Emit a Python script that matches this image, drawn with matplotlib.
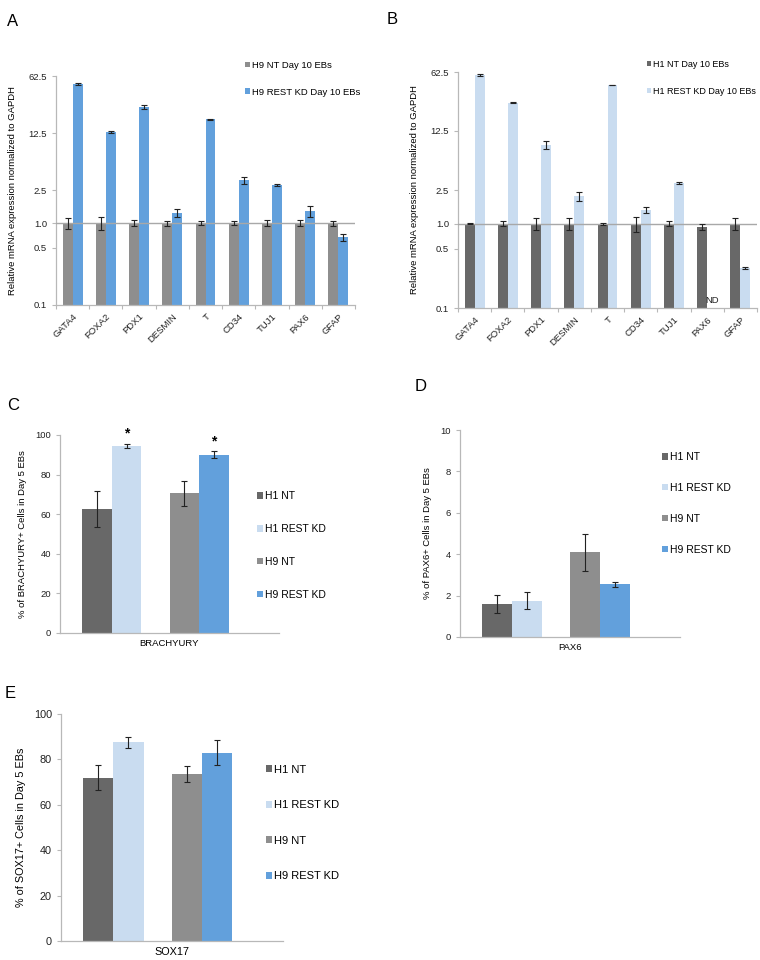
""" REST knockdown: qPCR markers (A, B) and flow percentages (C, D, E) """

import numpy as np
import matplotlib.pyplot as plt

plt.rcParams['font.family'] = ['Liberation Sans', 'DejaVu Sans']

""" 1. data """
genes = ['GATA4', 'FOXA2', 'PDX1', 'DESMIN', 'T', 'CD34', 'TUJ1', 'PAX6', 'GFAP']

# panel A, H9
h9_nt = [1.0, 1.0, 1.0, 1.0, 1.0, 1.0, 1.0, 1.0, 1.0]
h9_nt_err = [0.16, 0.18, 0.08, 0.07, 0.05, 0.06, 0.08, 0.09, 0.07]
h9_kd = [50.0, 13.0, 26.0, 1.33, 18.4, 3.35, 2.95, 1.40, 0.67]
h9_kd_err = [1.5, 0.4, 1.6, 0.15, 0.15, 0.35, 0.08, 0.20, 0.06]

# panel B, H1 (PAX6 knockdown not detected)
h1_nt = [1.0, 1.0, 1.0, 1.0, 1.0, 1.0, 1.0, 0.91, 1.0]
h1_nt_err = [0.01, 0.06, 0.16, 0.15, 0.03, 0.20, 0.07, 0.07, 0.15]
h1_kd = [57.0, 27.0, 8.6, 2.1, 44.0, 1.45, 3.05, np.nan, 0.30]
h1_kd_err = [1.5, 0.3, 0.9, 0.25, 0.3, 0.12, 0.1, np.nan, 0.01]

log_ticks = [0.1, 0.5, 1.0, 2.5, 12.5, 62.5]

# panels C, D, E: order H1 NT, H1 REST KD, H9 NT, H9 REST KD
groups = ['H1 NT', 'H1 REST KD', 'H9 NT', 'H9 REST KD']
brachyury = [62.5, 94.5, 70.5, 90.0]
brachyury_err = [9.0, 1.0, 6.5, 1.8]
pax6 = [1.6, 1.75, 4.1, 2.55]
pax6_err = [0.45, 0.4, 0.9, 0.12]
sox17 = [72.0, 87.5, 73.5, 83.0]
sox17_err = [5.5, 2.5, 3.5, 5.5]

c_h1nt, c_h1kd, c_h9nt, c_h9kd = '#686868', '#c9dcf0', '#8e8e8e', '#62a0dc'
axis_grey = '#b8b8b8'

fig = plt.figure(figsize=(7.6, 9.6), dpi=100)


def ax_px(left, right, top, bottom):
    # axes from pixel edges of the 760x960 figure
    return fig.add_axes([left / 760, 1 - bottom / 960,
                         (right - left) / 760, (bottom - top) / 960])


def style(ax, fs):
    for s in ('top', 'right'):
        ax.spines[s].set_visible(False)
    for s in ('left', 'bottom'):
        ax.spines[s].set_color(axis_grey)
        ax.spines[s].set_linewidth(0.9)
    ax.tick_params(which='both', colors=axis_grey, labelcolor='#222222',
                   labelsize=fs, length=3, width=0.8)


def legend(ax, handles, labels, x, y, fs, gap):
    ax.legend(handles, labels, loc='upper left', bbox_to_anchor=(x / 760, 1 - y / 960),
              bbox_transform=fig.transFigure, frameon=False, fontsize=fs,
              handlelength=0.55, handleheight=0.55, handletextpad=0.2,
              labelspacing=gap, borderpad=0)


""" 2. log-scale marker panels """
def marker_panel(ax, nt, nt_err, kd, kd_err, cnt, ckd):
    x = np.arange(len(genes))
    w = 0.3
    nt = np.array(nt)
    kd = np.array(kd)
    b1 = ax.bar(x - w / 2, nt - 0.1, w, bottom=0.1, color=cnt, zorder=2)
    b2 = ax.bar(x + w / 2, kd - 0.1, w, bottom=0.1, color=ckd, zorder=2)
    ax.errorbar(x - w / 2, nt, yerr=nt_err, fmt='none', ecolor='#222222',
                elinewidth=0.8, capsize=2, capthick=0.8, zorder=4)
    ax.errorbar(x + w / 2, kd, yerr=kd_err, fmt='none', ecolor='#222222',
                elinewidth=0.8, capsize=2, capthick=0.8, zorder=4)
    ax.axhline(1.0, color='#a8a8a8', lw=1.0, zorder=3)
    ax.set_yscale('log')
    ax.set_ylim(0.1, 62.5)
    ax.set_xlim(-0.5, len(genes) - 0.5)
    ax.set_yticks(log_ticks)
    ax.set_yticklabels(['%.1f' % t for t in log_ticks])
    ax.yaxis.set_minor_locator(plt.NullLocator())
    ax.set_xticks(x)
    ax.set_xticks(np.arange(len(genes) + 1) - 0.5, minor=True)
    ax.set_xticklabels(genes, rotation=45, ha='right', rotation_mode='anchor')
    ax.set_ylabel('Relative mRNA expression normalized to GAPDH', fontsize=6.8,
                  labelpad=8)
    style(ax, 6.8)
    ax.tick_params(axis='x', which='major', length=0, pad=5)
    return b1, b2


axA = ax_px(56, 355, 76, 305)
hA = marker_panel(axA, h9_nt, h9_nt_err, h9_kd, h9_kd_err, c_h9nt, c_h9kd)
legend(axA, hA, ['H9 NT Day 10 EBs', 'H9 REST KD Day 10 EBs'], 240, 56, 6.8, 1.9)

axB = ax_px(458, 757, 72, 308)
hB = marker_panel(axB, h1_nt, h1_nt_err, h1_kd, h1_kd_err, c_h1nt, c_h1kd)
legend(axB, hB, ['H1 NT Day 10 EBs', 'H1 REST KD Day 10 EBs'], 642, 55, 6.5, 2.0)
axB.text(7 + 0.15, 0.108, 'ND', fontsize=6.8, ha='center', va='bottom', color='#222222')

""" 3. percentage panels """
def pct_panel(ax, vals, errs, ymax, step, ylabel, xlabel, fs):
    w = 0.34
    pos = [-w / 2, w / 2, 1 - w / 2, 1 + w / 2]
    cols = [c_h1nt, c_h1kd, c_h9nt, c_h9kd]
    bars = ax.bar(pos, vals, w, color=cols, zorder=2)
    ax.errorbar(pos, vals, yerr=errs, fmt='none', ecolor='#222222',
                elinewidth=0.8, capsize=2, capthick=0.8, zorder=4)
    ax.set_xlim(-0.59, 1.91)
    ax.set_ylim(0, ymax)
    ax.set_yticks(np.arange(0, ymax + step / 2, step))
    ax.set_xticks([])
    ax.set_xlabel(xlabel, fontsize=fs, labelpad=4)
    ax.set_ylabel(ylabel, fontsize=fs, labelpad=6)
    style(ax, fs)
    return bars, pos


axC = ax_px(60, 279, 435, 633)
bC, pC = pct_panel(axC, brachyury, brachyury_err, 100, 20,
                   '% of BRACHYURY+ Cells in Day 5 EBs', 'BRACHYURY', 6.8)
for i in (1, 3):
    axC.text(pC[i], brachyury[i] + brachyury_err[i] + 1.5, '*', ha='center',
             va='bottom', fontsize=10, fontweight='bold', clip_on=False)
legend(axC, bC.patches, groups, 252, 486, 7.5, 2.2)

axD = ax_px(460, 680, 430, 637)
bD, pD = pct_panel(axD, pax6, pax6_err, 10, 2,
                   '% of PAX6+ Cells in Day 5 EBs', 'PAX6', 6.8)
legend(axD, bD.patches, groups, 657, 447, 7.5, 2.0)

axE = ax_px(61, 283, 714, 941)
bE, pE = pct_panel(axE, sox17, sox17_err, 100, 20,
                   '% of SOX17+ Cells in Day 5 EBs', 'SOX17', 7.8)
legend(axE, bE.patches, groups, 260, 759, 8.0, 2.3)

""" 4. panel letters """
for lab, px, py in [('A', 7, 14), ('B', 387, 12), ('C', 7, 398),
                    ('D', 415, 379), ('E', 5, 686)]:
    fig.text(px / 760, 1 - py / 960, lab, fontsize=12, va='top', ha='left')

fig.savefig('out.png', dpi=100)
